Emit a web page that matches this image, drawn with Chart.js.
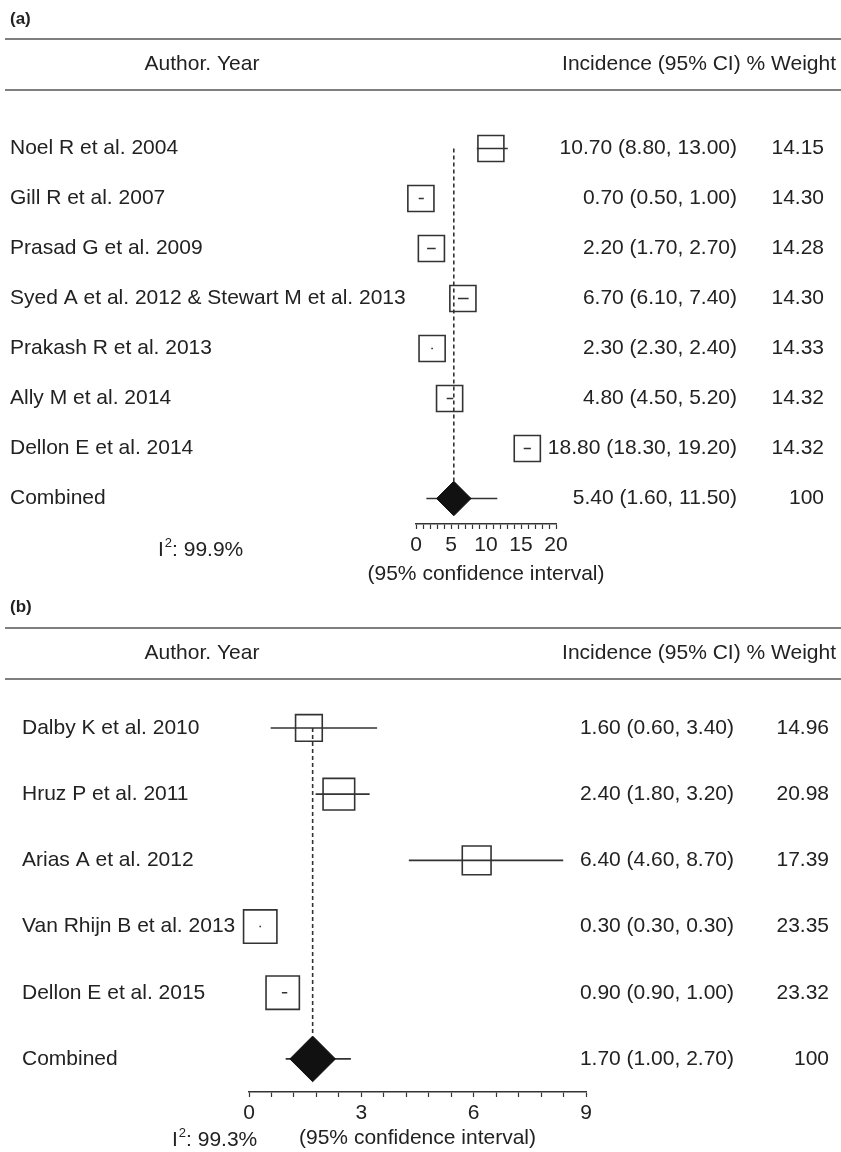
<!DOCTYPE html>
<html>
<head>
<meta charset="utf-8">
<script src="https://cdn.jsdelivr.net/npm/chart.js@4.4.1/dist/chart.umd.min.js"></script>
<style>
  html, body { margin: 0; padding: 0; background: #fff; }
  #wrap { position: relative; width: 841px; height: 1152px; }
  canvas { position: absolute; left: 0; }
  #chartA { top: 0; }
  #chartB { top: 590px; }
</style>
</head>
<body>
<div id="wrap">
  <canvas id="chartA" width="841" height="590"></canvas>
  <canvas id="chartB" width="841" height="562"></canvas>
</div>
<script>
// ---- panel (a) ----
const labelsA = ['Noel R et al. 2004', 'Gill R et al. 2007', 'Prasad G et al. 2009',
  'Syed A et al. 2012 & Stewart M et al. 2013', 'Prakash R et al. 2013',
  'Ally M et al. 2014', 'Dellon E et al. 2014', 'Combined'];
// box positions as drawn in the figure (Dellon 2014 box sits left of its printed value)
const estA  = [10.7, 0.7, 2.2, 6.7, 2.3, 4.8, 15.9];
const lowA  = [8.8, 0.5, 1.7, 6.1, 2.3, 4.5, 15.5];
const highA = [13.0, 1.0, 2.7, 7.4, 2.4, 5.2, 16.3];
const weightA = [14.15, 14.30, 14.28, 14.30, 14.33, 14.32, 14.32];
const pooledA = [5.4, 1.6, 11.5];
const ciTextA = ['10.70 (8.80, 13.00)', '0.70 (0.50, 1.00)', '2.20 (1.70, 2.70)',
  '6.70 (6.10, 7.40)', '2.30 (2.30, 2.40)', '4.80 (4.50, 5.20)',
  '18.80 (18.30, 19.20)', '5.40 (1.60, 11.50)'];
const weightTextA = ['14.15', '14.30', '14.28', '14.30', '14.33', '14.32', '14.32', '100'];
const tickLabelsA = [0, 5, 10, 15, 20];
const i2A = '99.9%';

// ---- panel (b) ----
const labelsB = ['Dalby K et al. 2010', 'Hruz P et al. 2011', 'Arias A et al. 2012',
  'Van Rhijn B et al. 2013', 'Dellon E et al. 2015', 'Combined'];
const estB  = [1.6, 2.4, 6.08, 0.3, 0.9];
const lowB  = [0.6, 1.8, 4.29, 0.3, 0.9];
const highB = [3.4, 3.2, 8.37, 0.3, 1.0];
const weightB = [14.96, 20.98, 17.39, 23.35, 23.32];
const pooledB = [1.7, 1.0, 2.7];
const ciTextB = ['1.60 (0.60, 3.40)', '2.40 (1.80, 3.20)', '6.40 (4.60, 8.70)',
  '0.30 (0.30, 0.30)', '0.90 (0.90, 1.00)', '1.70 (1.00, 2.70)'];
const weightTextB = ['14.96', '20.98', '17.39', '23.35', '23.32', '100'];
const tickLabelsB = [0, 3, 6, 9];
const i2B = '99.3%';

const FONT = '"Liberation Sans", Arial, Helvetica, sans-serif';
const INK = '#222';
const LINE = '#333';
Chart.defaults.font.family = FONT;
Chart.defaults.color = INK;

function forest(id, d, L) {
  const n = d.est.length;
  const rowPx = (chart) => Math.abs(chart.scales.y.getPixelForValue(1) - chart.scales.y.getPixelForValue(0));

  const whiskers = [];
  d.low.forEach((lo, i) => {
    whiskers.push({x: lo, y: i}, {x: d.high[i], y: i}, {x: null, y: null});
  });
  whiskers.push({x: d.pooled[1], y: n}, {x: d.pooled[2], y: n});

  const textPlugin = {
    id: 'forestText',
    afterDraw(chart) {
      const ctx = chart.ctx;
      const ys = chart.scales.y;
      const xs = chart.scales.x;
      ctx.save();
      ctx.fillStyle = INK;
      ctx.textBaseline = 'middle';
      // panel tag
      ctx.font = 'bold 17px ' + FONT;
      ctx.textAlign = 'left';
      ctx.fillText(L.tag, 10, L.tagY);
      // header rules
      ctx.strokeStyle = '#555';
      ctx.lineWidth = 1.3;
      [L.rule1, L.rule2].forEach(y => {
        ctx.beginPath(); ctx.moveTo(5, y); ctx.lineTo(841, y); ctx.stroke();
      });
      ctx.font = '21px ' + FONT;
      ctx.textAlign = 'center';
      ctx.fillText('Author. Year', 202, L.headY);
      ctx.textAlign = 'right';
      ctx.fillText('Incidence (95% CI) % Weight', 836, L.headY);
      // rows
      d.labels.forEach((lab, i) => {
        const y = ys.getPixelForValue(i);
        ctx.textAlign = 'left';
        ctx.fillText(lab, L.labelX, y);
        ctx.textAlign = 'right';
        ctx.fillText(d.ciText[i], L.ciRight, y);
        ctx.fillText(d.wText[i], L.wRight, y);
      });
      // axis title, centred under the x axis without squeezing
      ctx.textAlign = 'center';
      ctx.fillText('(95% confidence interval)', (xs.left + xs.right) / 2, L.titleY);
      // I-squared
      ctx.textAlign = 'left';
      let x = L.i2X;
      ctx.fillText('I', x, L.i2Y);
      x += ctx.measureText('I').width + 1;
      ctx.font = '13px ' + FONT;
      ctx.fillText('2', x, L.i2Y - 7);
      x += ctx.measureText('2').width;
      ctx.font = '21px ' + FONT;
      ctx.fillText(': ' + d.i2, x, L.i2Y);
      ctx.restore();
    }
  };

  return new Chart(document.getElementById(id), {
    type: 'scatter',
    data: {
      datasets: [
        {
          // pooled diamond
          data: [{x: d.pooled[0], y: n}],
          pointStyle: 'rectRot',
          pointRadius: (c) => 0.345 * rowPx(c.chart),
          backgroundColor: '#111',
          borderColor: '#111',
          borderWidth: 1,
          clip: false
        },
        {
          // study boxes, area proportional to weight
          data: d.est.map((v, i) => ({x: v, y: i})),
          pointStyle: 'rect',
          pointRadius: (c) => 6.9 * Math.sqrt(d.weight[c.dataIndex]) / Math.SQRT2,
          backgroundColor: 'rgba(0,0,0,0)',
          borderColor: LINE,
          borderWidth: 1.6,
          clip: false
        },
        {
          // confidence intervals
          data: whiskers,
          showLine: true,
          spanGaps: false,
          pointRadius: 0,
          borderColor: LINE,
          borderWidth: 1.6,
          borderCapStyle: 'square',
          clip: false
        },
        {
          // reference line at the pooled estimate
          data: [{x: d.pooled[0], y: 0}, {x: d.pooled[0], y: n - 0.345}],
          showLine: true,
          pointRadius: 0,
          borderColor: LINE,
          borderWidth: 1.6,
          borderDash: [4, 3],
          clip: false
        }
      ]
    },
    options: {
      responsive: false,
      animation: false,
      events: [],
      layout: { padding: { left: L.left, right: 841 - L.right, top: L.top, bottom: 0 } },
      plugins: { legend: { display: false }, tooltip: { enabled: false } },
      scales: {
        x: {
          type: 'linear',
          min: d.ticks[0],
          max: d.ticks[d.ticks.length - 1],
          ticks: {
            stepSize: d.step,
            autoSkip: false,
            maxRotation: 0,
            padding: 3.4,
            color: INK,
            font: { size: 21 },
            callback: (v) => d.ticks.some(t => Math.abs(t - v) < 1e-6) ? String(Math.round(v)) : ''
          },
          grid: { drawOnChartArea: false, drawTicks: true, tickLength: 5, color: LINE, tickWidth: 1.2 },
          border: { display: true, color: LINE, width: 1.6 },
          title: { display: false },
          afterFit: (axis) => { axis.height = L.axisH; }
        },
        y: {
          type: 'linear',
          display: false,
          reverse: true,
          min: L.yMin,
          max: L.yMax
        }
      }
    },
    plugins: [textPlugin]
  });
}

forest('chartA',
  { labels: labelsA, est: estA, low: lowA, high: highA, weight: weightA, pooled: pooledA,
    ciText: ciTextA, wText: weightTextA, ticks: tickLabelsA, step: 1, i2: i2A },
  { tag: '(a)', tagY: 19, rule1: 39, rule2: 90, headY: 64, labelX: 10, ciRight: 737, wRight: 824,
    i2X: 158, i2Y: 550, titleY: 574, left: 416, right: 556, top: 48.5, yMin: -2, yMax: 7.51, axisH: 66 });

// panel (b) canvas starts at y = 590
forest('chartB',
  { labels: labelsB, est: estB, low: lowB, high: highB, weight: weightB, pooled: pooledB,
    ciText: ciTextB, wText: weightTextB, ticks: tickLabelsB, step: 0.6, i2: i2B },
  { tag: '(b)', tagY: 17, rule1: 38, rule2: 89, headY: 63, labelX: 22, ciRight: 734, wRight: 829,
    i2X: 172, i2Y: 550, titleY: 548, left: 249, right: 586, top: 38.7, yMin: -1.5, yMax: 5.5, axisH: 60 });
</script>
</body>
</html>
